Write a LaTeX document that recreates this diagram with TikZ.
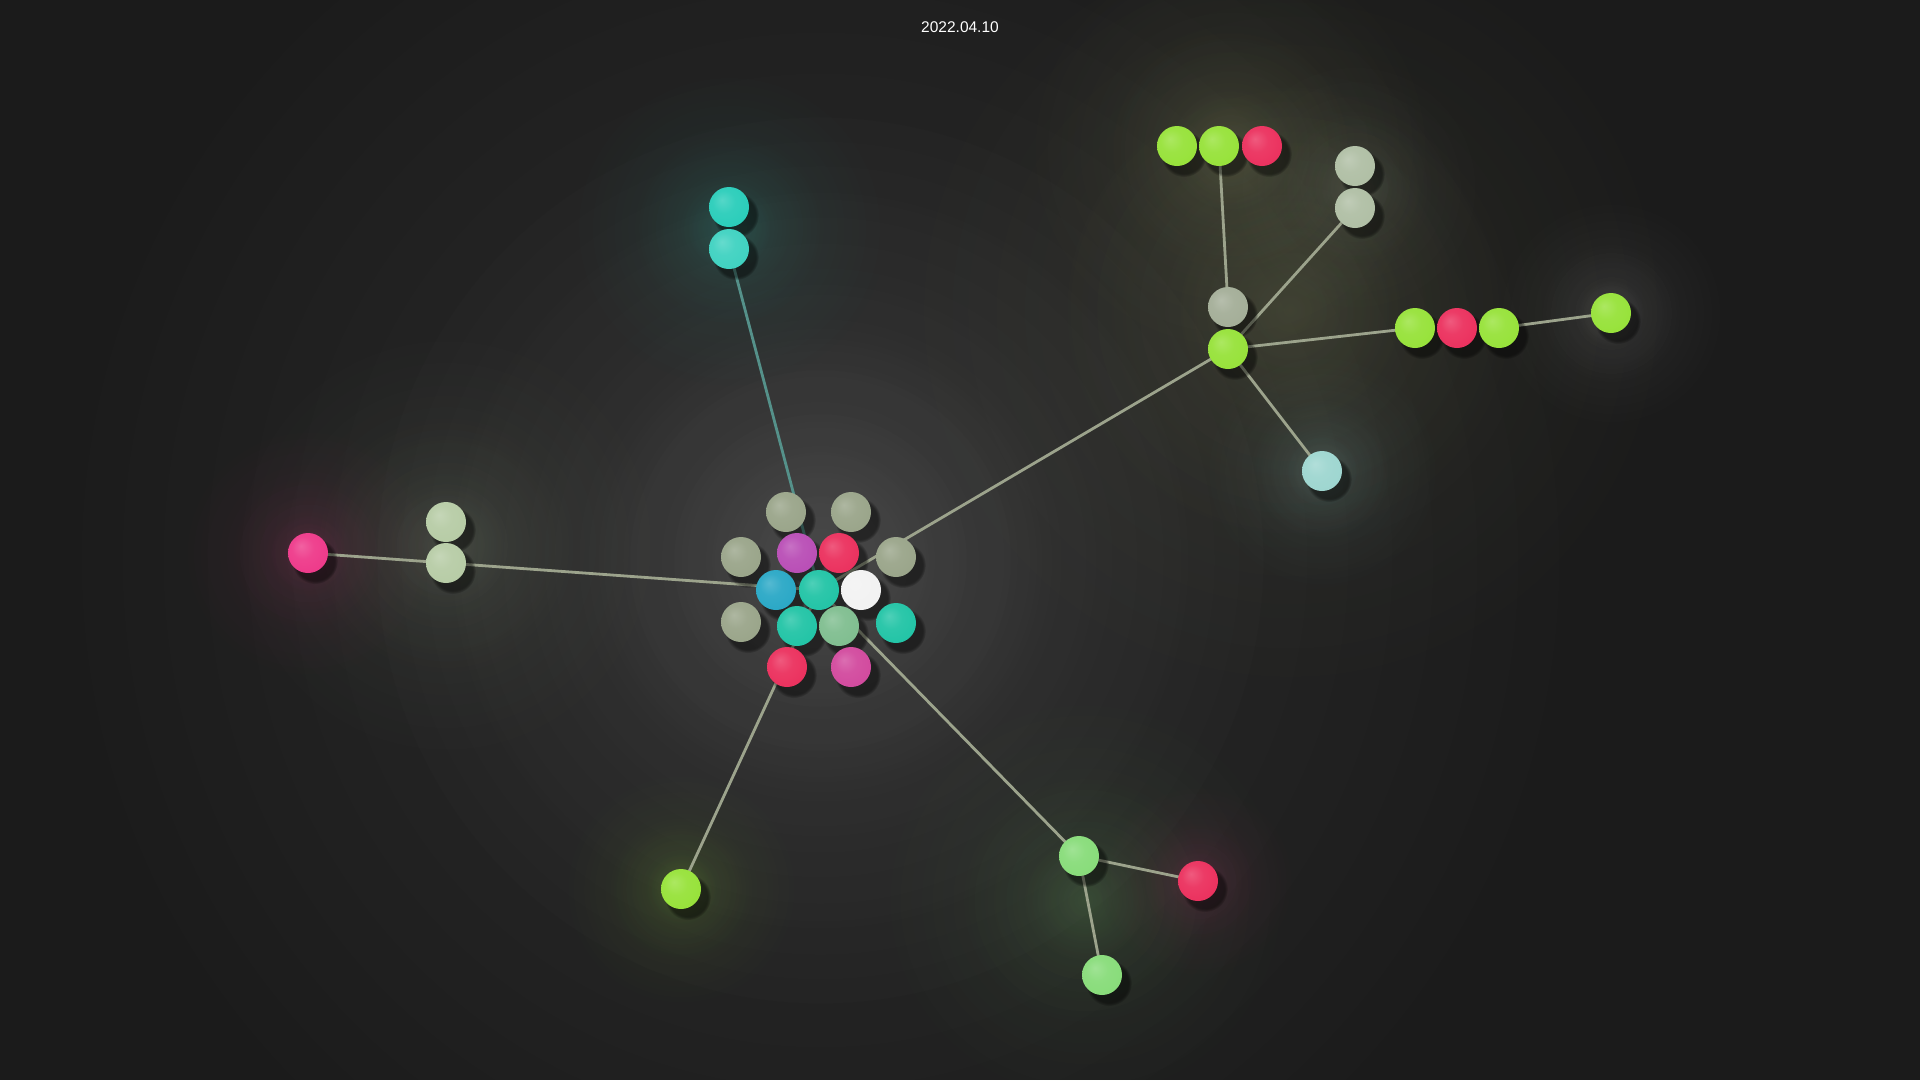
\documentclass[tikz,border=0pt]{standalone}
\usepackage{fontspec}
\setmainfont{Liberation Sans}
\usetikzlibrary{shadows,fadings}

\definecolor{bgdark}{HTML}{1B1B1B}
\definecolor{sage}{HTML}{9AA58A}
\definecolor{paleleft}{HTML}{B7CCA6}
\definecolor{paletop}{HTML}{B0BFA5}
\definecolor{ash}{HTML}{A4AE98}
\definecolor{lime}{HTML}{97E23A}
\definecolor{rose}{HTML}{EB315E}
\definecolor{hotpink}{HTML}{EE3A8A}
\definecolor{leaf}{HTML}{88DC7A}
\definecolor{aqua}{HTML}{2ACDBA}
\definecolor{frost}{HTML}{9ED6D0}
\definecolor{jade}{HTML}{22C4A6}
\definecolor{sky}{HTML}{2AA8C6}
\definecolor{orchid}{HTML}{B94EB6}
\definecolor{berry}{HTML}{D24A9E}
\definecolor{mint}{HTML}{80BE90}
\definecolor{snow}{HTML}{F2F2F2}
\definecolor{wire}{HTML}{9CA38C}
\definecolor{tealwire}{HTML}{55918A}
\definecolor{olive}{HTML}{8A9060}
\colorlet{orbcol}{white}

\pgfdeclareradialshading[orbcol]{orb}{\pgfqpoint{-9bp}{9bp}}{color(0bp)=(orbcol!80!white); color(14bp)=(orbcol!95!white); color(30bp)=(orbcol); color(42bp)=(orbcol!90!black); color(50bp)=(orbcol!80!black)}
\tikzfading[name=halo, inner color=transparent!0, outer color=transparent!100]

\pgfdeclarelayer{bg}
\pgfdeclarelayer{wires}
\pgfsetlayers{bg,wires,main}

\begin{document}
\begin{tikzpicture}[x=1pt, y=-1pt,
    orb/.style={circle, inner sep=0pt, minimum size=40pt, /utils/exec={\colorlet{orbcol}{#1}}, shading=orb,
      circular drop shadow={shadow xshift=6pt, shadow yshift=-7pt, fill=black, opacity=.45, shadow scale=1.15}},
    link/.style={line width=2.8pt, wire},
    title/.style={text=white, font=\fontsize{15.5}{18}\selectfont}]
  \path[use as bounding box] (0,0) rectangle (1920,1080);
  \begin{pgfonlayer}{bg}
    \fill[bgdark] (0,0) rectangle (1920,1080);
    \foreach \x/\y/\r/\c/\o in {820/560/800/white/.075, 446/545/220/paleleft/.08, 308/553/130/hotpink/.08,
        729/228/160/aqua/.09, 1230/150/210/olive/.13, 1290/310/400/olive/.11,
        1611/313/120/white/.06, 1322/471/120/frost/.09, 1355/187/130/paletop/.07,
        681/889/120/lime/.09, 1085/900/210/leaf/.08, 1198/881/100/hotpink/.08}
      \foreach \s in {1,.6,.3}
        \fill[\c, opacity=\o, path fading=halo] (\x,\y) circle ({\s*\r pt});
  \end{pgfonlayer}

  \node[title] (date) at (960,27) {2022.04.10};

  % central cluster
  \node[orb=sage] (sgTL) at (786,512) {};
  \node[orb=sage] (sgTR) at (851,512) {};
  \node[orb=sage] (sgL) at (741,557) {};
  \node[orb=orchid] (orchidT) at (797,553) {};
  \node[orb=rose] (roseT) at (839,553) {};
  \node[orb=sage] (sgR) at (896,557) {};
  \node[orb=sky] (skyC) at (776,590) {};
  \node[orb=jade] (hub) at (819,590) {};
  \node[orb=snow] (snowC) at (861,590) {};
  \node[orb=sage] (sgLL) at (741,622) {};
  \node[orb=jade] (jadeL) at (797,626) {};
  \node[orb=mint] (mintC) at (839,626) {};
  \node[orb=jade] (jadeR) at (896,623) {};
  \node[orb=rose] (roseB) at (787,667) {};
  \node[orb=berry] (berryB) at (851,667) {};

  \node[orb=hotpink] (pinkL) at (308,553) {};
  \node[orb=paleleft] (paleLT) at (446,522) {};
  \node[orb=paleleft] (paleLB) at (446,563) {};

  \node[orb=aqua] (aquaT) at (729,207) {};
  \node[orb=aqua!90!white] (aquaB) at (729,249) {};

  \node[orb=lime] (limeLL) at (681,889) {};

  \node[orb=leaf] (leafA) at (1079,856) {};
  \node[orb=rose] (roseLR) at (1198,881) {};
  \node[orb=leaf] (leafB) at (1102,975) {};

  % upper right group
  \node[orb=lime] (limeT1) at (1177,146) {};
  \node[orb=lime] (limeT2) at (1219,146) {};
  \node[orb=rose] (roseT3) at (1262,146) {};
  \node[orb=paletop] (paleT1) at (1355,166) {};
  \node[orb=paletop] (paleT2) at (1355,208) {};
  \node[orb=ash] (ashHub) at (1228,307) {};
  \node[orb=lime] (limeHub) at (1228,349) {};
  \node[orb=lime] (limeC1) at (1415,328) {};
  \node[orb=rose] (roseC2) at (1457,328) {};
  \node[orb=lime] (limeC3) at (1499,328) {};
  \node[orb=lime] (limeFar) at (1611,313) {};
  \node[orb=frost] (frostB) at (1322,471) {};

  \begin{pgfonlayer}{wires}
    \draw[link] (hub.center) -- (paleLB.center) -- (pinkL.center);
    \draw[link, tealwire] (hub.center) -- (aquaB.center);
    \draw[link] (hub.center) -- (limeLL.center);
    \draw[link] (hub.center) -- (leafA.center) -- (roseLR.center);
    \draw[link] (leafA.center) -- (leafB.center);
    \draw[link] (hub.center) -- (limeHub.center) -- (limeC1.center);
    \draw[link] (limeHub.center) -- (paleT2.center);
    \draw[link] (limeHub.center) -- (frostB.center);
    \draw[link] (limeT2.center) -- (ashHub.center);
    \draw[link] (limeC3.center) -- (limeFar.center);
  \end{pgfonlayer}
\end{tikzpicture}
\end{document}
